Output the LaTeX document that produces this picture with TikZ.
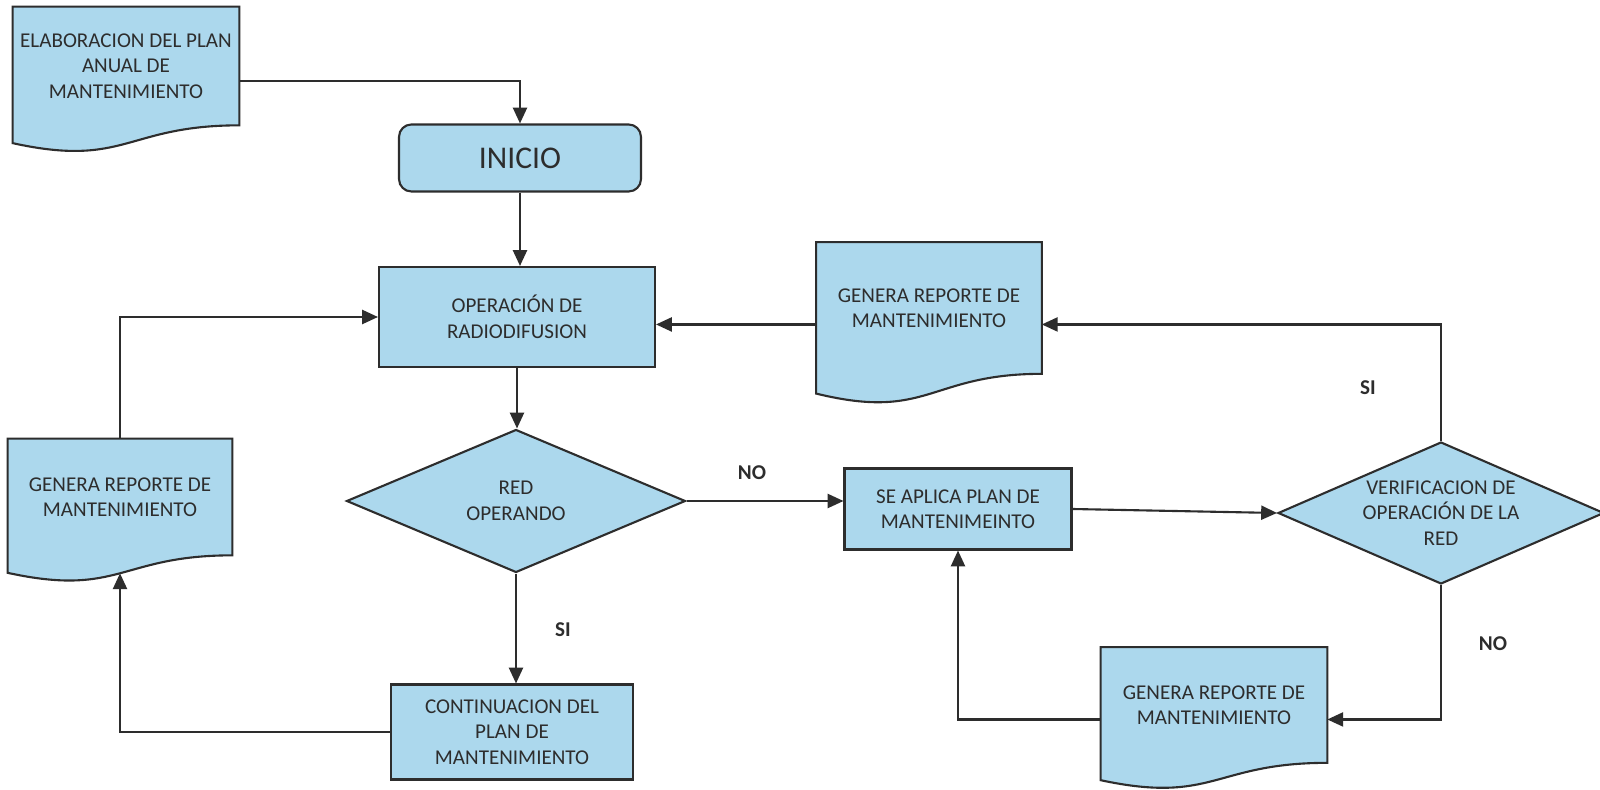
\documentclass[tikz,border=0pt]{standalone}
\usepackage{fontspec}
\setmainfont{Carlito}
\usepackage{tikz}
\usetikzlibrary{positioning,calc}
\usetikzlibrary{arrows.meta,shapes.geometric,backgrounds}
\definecolor{FlowBlue}{RGB}{172,216,237}
\definecolor{InkGray}{RGB}{45,45,45}
\tikzset{
  box/.style={rectangle,draw=InkGray,fill=FlowBlue,line width=1.2pt,align=center,inner sep=2pt,
    text=InkGray,font=\fontsize{12}{14.5}\selectfont},
  doc/.style={rectangle,draw=none,align=center,inner sep=2pt,text=InkGray,font=\fontsize{12}{14.5}\selectfont},
  docshape/.style={draw=InkGray,fill=FlowBlue,line width=1.2pt},
  decision/.style={diamond,draw=InkGray,fill=FlowBlue,line width=1.2pt,inner sep=0pt},
  dtext/.style={align=center,text=InkGray,font=\fontsize{12}{14.5}\selectfont},
}
\tikzset{flow/.style={draw=InkGray,line width=1.2pt,-{Triangle[length=9pt,width=8pt]}}, tag/.style={text=InkGray,font=\bfseries\fontsize{12}{14}\selectfont}}

\begin{document}
\begin{tikzpicture}[x=0.02cm,y=-0.02cm]
\useasboundingbox (0,0) rectangle (1600,790);
% boxes
\node[doc,minimum width=4.52cm,minimum height=2.36cm] (plan) at (126,66) {ELABORACION DEL PLAN\\ANUAL DE\\MANTENIMIENTO};
\node[box,rounded corners=7pt,minimum width=4.84cm,minimum height=1.34cm,font=\fontsize{18}{20}\selectfont] (inicio) at (520,158) {INICIO};
\node[box,minimum width=5.52cm,minimum height=2.0cm] (oper) at (517,317) {OPERACIÓN DE\\RADIODIFUSION};
\node[decision,minimum width=6.78cm,minimum height=2.86cm,label={[dtext]center:{RED\\OPERANDO}}] (red) at (516,501) {};
\node[box,minimum width=4.84cm,minimum height=1.9cm] (cont) at (512,732) {CONTINUACION DEL\\PLAN DE\\MANTENIMIENTO};
\node[doc,minimum width=4.48cm,minimum height=2.32cm] (repL) at (120,497) {GENERA REPORTE DE\\MANTENIMIENTO};
\node[doc,minimum width=4.5cm,minimum height=2.62cm] (repT) at (929,308) {GENERA REPORTE DE\\MANTENIMIENTO};
\node[box,minimum width=4.54cm,minimum height=1.62cm] (aplica) at (958,509) {SE APLICA PLAN DE\\MANTENIMEINTO};
\node[decision,minimum width=6.52cm,minimum height=2.84cm,label={[dtext]center:{VERIFICACION DE\\OPERACIÓN DE LA\\RED}}] (verif) at (1441,513) {};
\node[doc,minimum width=4.52cm,minimum height=2.3cm] (repB) at (1214,705) {GENERA REPORTE DE\\MANTENIMIENTO};
% document outlines, behind the text
\begin{scope}[on background layer]
\fill[white] (0,0) rectangle (1600,790);
\foreach \d in {plan,repL,repT,repB}
  \draw[docshape] (\d.north west) -- (\d.north east) -- (\d.south east)
    .. controls (\d.south) and ($(\d.north)!1.36!(\d.south)$) .. ($(\d.north west)!1.15!(\d.south west)$) -- cycle;
\end{scope}
% connection points
\coordinate (planR) at ($(plan.north east)!0.625!(plan.south east)$);
\coordinate (repLB) at ($(repL.north)!1.154!(repL.south)$);
\coordinate (repTR) at ($(repT.north east)!0.625!(repT.south east)$);
\coordinate (repTL) at ($(repT.north west)!0.625!(repT.south west)$);
\coordinate (repBR) at ($(repB.north east)!0.625!(repB.south east)$);
\coordinate (repBL) at ($(repB.north west)!0.625!(repB.south west)$);
% arrows
\draw[flow] (planR) -| (inicio.north);
\draw[flow] (inicio.south) -- (inicio.south |- oper.north);
\draw[flow] (oper.south) -- (oper.south |- red.north);
\draw[flow] (red.south) -- (red.south |- cont.north);
\draw[flow] (cont.west) -| (repLB);
\draw[flow] (repL.north) |- (oper.west);
\draw[flow] (red.east) -- (red.east -| aplica.west);
\draw[flow] (aplica.east) -- (verif.west);
\draw[flow] (verif.north) |- (repTR);
\draw[flow] (repTL) -- (repTL -| oper.east);
\draw[flow] (verif.south) |- (repBR);
\draw[flow] (repBL) -| (aplica.south);
% labels
\node[tag] (siA) at (563,630) {SI};
\node[tag] (noA) at (752,473) {NO};
\node[tag] (siB) at (1368,388) {SI};
\node[tag] (noB) at (1493,644) {NO};
\end{tikzpicture}
\end{document}
